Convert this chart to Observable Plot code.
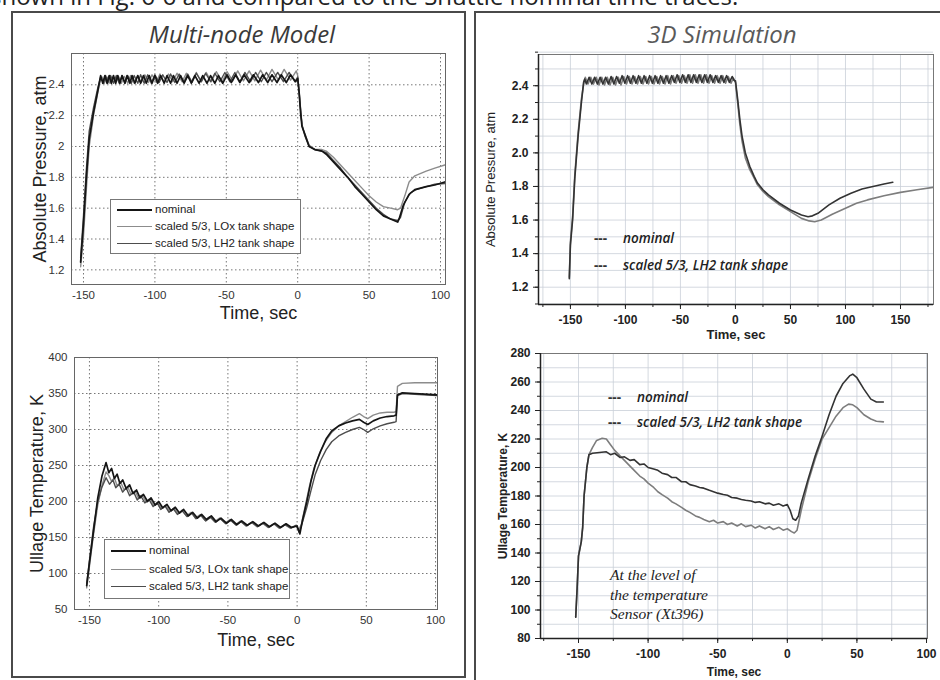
<!DOCTYPE html>
<html><head><meta charset="utf-8">
<script src="https://cdn.jsdelivr.net/npm/d3@7"></script>
<script src="https://cdn.jsdelivr.net/npm/@observablehq/plot@0.6"></script>
<style>
html,body{margin:0;padding:0;background:#fff;}
#page{position:relative;width:940px;height:680px;overflow:hidden;background:#fff;font-family:"Liberation Sans",Arial,sans-serif;}
.abs{position:absolute;}
.box{position:absolute;border:2px solid #4a4a4a;}
.title{position:absolute;font-family:"Open Sans",sans-serif;font-style:italic;font-size:24px;white-space:nowrap;transform:translate(-50%,-50%);}
.mlegend{position:absolute;background:#fff;border:1px solid #777;font-size:11.5px;color:#222;}
.mlegend .row{position:absolute;left:6px;white-space:nowrap;}
.mlegend .ln{display:inline-block;width:35px;vertical-align:middle;margin-right:3px;}
.olegend{position:absolute;font-family:"Open Sans",sans-serif;font-style:italic;font-weight:600;font-size:13.5px;color:#222;white-space:nowrap;}
.olegend .dash{display:inline-block;width:20px;color:#333;font-style:normal;font-weight:700;margin-right:9px;}
.note{position:absolute;font-family:"Liberation Serif",serif;font-style:italic;font-size:15.5px;line-height:19.5px;color:#222;white-space:nowrap;}
svg{position:absolute;overflow:visible;}
</style></head>
<body><div id="page"></div>
<script>
// ---------- Data: Multi-node model, absolute pressure (atm) ----------
const tlNominal = [[-152,1.25],[-150,1.5],[-148,1.8],[-146,2.05],[-143,2.22],[-140,2.36],[-138,2.46],
[-136.5,2.41],[-135,2.46],[-133.5,2.41],[-132,2.46],[-130.5,2.41],[-129,2.46],[-127.5,2.41],[-126,2.46],[-124.5,2.41],[-123,2.46],
[-121,2.41],[-119.5,2.46],[-117.5,2.41],[-116,2.46],[-114,2.41],[-112,2.46],[-110,2.41],[-108,2.46],[-106,2.41],[-104,2.46],
[-102,2.41],[-100,2.46],[-98,2.41],[-96,2.46],[-93.5,2.41],[-91.5,2.46],[-89,2.41],[-87,2.46],[-84.5,2.41],[-82,2.46],
[-79.5,2.41],[-77,2.46],[-74.5,2.41],[-72,2.46],[-69,2.41],[-66.5,2.46],[-63.5,2.41],[-61,2.46],[-58,2.41],[-55.5,2.46],
[-52.5,2.41],[-49.5,2.465],[-46.5,2.415],[-43.5,2.465],[-40.5,2.415],[-37.5,2.465],[-34,2.415],[-31,2.465],[-27.5,2.415],
[-24.5,2.465],[-21,2.415],[-18,2.465],[-14.5,2.415],[-11.5,2.465],[-8,2.415],[-5,2.465],[-1.5,2.42],[0,2.44],
[1,2.35],[2,2.22],[3,2.13],[5,2.08],[8,2.0],[12,1.98],[17,1.97],[20,1.95],[25,1.9],[30,1.85],[35,1.8],[40,1.74],[45,1.69],
[50,1.64],[55,1.59],[60,1.55],[65,1.53],[70,1.51],[71,1.53],[74,1.62],[78,1.69],[82,1.72],[90,1.74],[96,1.75],[103,1.77]];
const tlLOx = [[-152,1.22],[-150,1.42],[-148,1.72],[-146,2.0],[-143,2.2],[-140,2.35],[-138,2.44],
[-137,2.45],[-135.5,2.41],[-133.5,2.45],[-131.5,2.41],[-129.5,2.45],[-127.5,2.41],[-125.5,2.455],[-123.5,2.41],[-121.5,2.455],
[-119,2.41],[-117,2.46],[-114.5,2.41],[-112,2.46],[-109.5,2.415],[-107,2.465],[-104.5,2.415],[-102,2.465],[-99,2.415],
[-96.5,2.47],[-93.5,2.415],[-90.5,2.47],[-87.5,2.42],[-84.5,2.475],[-81,2.42],[-78,2.475],[-74.5,2.42],[-71,2.48],
[-67.5,2.42],[-64,2.48],[-60.5,2.42],[-57,2.485],[-53,2.42],[-49.5,2.485],[-45.5,2.425],[-42,2.49],[-38,2.425],[-34,2.49],
[-30,2.425],[-26,2.495],[-22,2.43],[-18,2.5],[-13.5,2.43],[-9.5,2.5],[-5,2.43],[-1,2.49],[0,2.46],
[1,2.36],[2,2.25],[3,2.14],[5,2.08],[8,2.01],[12,1.98],[17,1.98],[20,1.97],[25,1.93],[30,1.88],[35,1.83],[40,1.78],[45,1.73],
[50,1.68],[55,1.64],[60,1.61],[65,1.6],[70,1.59],[72,1.6],[75,1.68],[78,1.77],[82,1.81],[90,1.84],[96,1.86],[103,1.88]];
const tlLH2 = [[-152,1.28],[-150,1.55],[-148,1.85],[-146,2.1],[-143,2.25],[-140,2.38],[-138,2.45],
[-136,2.41],[-134.5,2.46],[-133,2.41],[-131,2.46],[-129,2.41],[-127,2.46],[-125,2.41],[-123,2.46],[-121,2.41],[-119,2.46],
[-116.5,2.41],[-114.5,2.46],[-112,2.41],[-110,2.465],[-107.5,2.41],[-105,2.465],[-102.5,2.41],[-100,2.465],[-97,2.415],
[-94.5,2.465],[-91.5,2.415],[-89,2.47],[-86,2.415],[-83,2.47],[-80,2.415],[-77,2.47],[-74,2.415],[-71,2.475],[-67.5,2.42],
[-64.5,2.475],[-61,2.42],[-58,2.475],[-54.5,2.42],[-51,2.48],[-47.5,2.42],[-44,2.48],[-40.5,2.42],[-37,2.48],[-33,2.42],
[-29.5,2.48],[-25.5,2.42],[-22,2.48],[-18,2.42],[-14,2.48],[-10,2.42],[-6,2.48],[-2,2.42],[0,2.45],
[1,2.35],[2,2.24],[3,2.14],[5,2.07],[8,2.0],[12,1.98],[17,1.97],[20,1.96],[25,1.91],[30,1.86],[35,1.8],[40,1.75],[45,1.7],
[50,1.65],[55,1.6],[60,1.56],[65,1.53],[70,1.52],[72,1.54],[75,1.64],[79,1.7],[83,1.72],[90,1.74],[96,1.755],[103,1.76]];

// ---------- Data: Multi-node model, ullage temperature (K) ----------
const blNominal = [[-152,83],[-150,115],[-147,160],[-144,205],[-141,235],[-138,254],
[-136,240],[-134,246],[-132,232],[-130,238],[-128,225],[-126,230],[-123.5,218],[-121,223],[-118.5,211],[-116,216],
[-113.5,205],[-111,210],[-108,200],[-105.5,205],[-102.5,195],[-100,200],[-97,191],[-94,196],[-91,187],[-88,192],
[-85,184],[-82,189],[-78.5,180],[-75.5,185],[-72,177],[-69,182],[-65.5,175],[-62,180],[-58.5,172],[-55,177],[-51,170],
[-47.5,175],[-43.5,168],[-40,173],[-36,167],[-32,172],[-28,166],[-24,171],[-20,165],[-16,170],[-12,164],[-8,169],[-4,164],
[0,166],[2,155],[4,175],[7,200],[10,228],[13,250],[17,270],[21,287],[25,298],[30,305],[35,309],[40,312],[45,314],[48,310],
[51,307],[55,312],[60,316],[65,318],[70,319],[71.5,320],[72.5,348],[76,351],[85,350],[92,349],[101,348]];
const blLOx = [[-152,80],[-150,110],[-147,155],[-144,195],[-141,222],[-138,241],
[-136,236],[-134,228],[-132,233],[-130,222],[-127.5,227],[-125,216],[-122.5,221],[-120,210],[-117,215],[-114.5,204],
[-112,209],[-109,199],[-106,204],[-103.5,194],[-101,199],[-98,190],[-95,195],[-92,186],[-89,191],[-86,183],[-83,188],
[-80,180],[-76.5,185],[-73.5,177],[-70,182],[-66.5,174],[-63,179],[-59.5,172],[-56,177],[-52,170],[-48.5,175],[-44.5,168],
[-41,173],[-37,166],[-33,171],[-29,165],[-25,170],[-21,164],[-17,169],[-13,163],[-9,168],[-5,163],[-1,167],
[1,160],[3,168],[6,195],[9,222],[12,245],[16,266],[20,282],[25,296],[30,305],[35,311],[40,317],[45,322],[48,318],[51,315],
[55,320],[60,323],[65,324],[70,324],[71.5,325],[72.5,360],[76,364],[85,365],[101,365]];
const blLH2 = [[-152,86],[-150,118],[-147,165],[-144,200],[-141,220],[-138,233],
[-135.5,224],[-133,230],[-131,219],[-128.5,224],[-126,213],[-123.5,219],[-121,208],[-118,213],[-115.5,202],[-113,208],
[-110,198],[-107,203],[-104,193],[-101,198],[-98.5,189],[-95.5,194],[-92.5,185],[-89.5,190],[-86.5,182],[-83,187],
[-79.5,179],[-76,184],[-73,176],[-69.5,181],[-66,173],[-62.5,178],[-59,171],[-55.5,176],[-51.5,169],[-48,174],[-44,167],
[-40.5,172],[-36.5,166],[-32.5,171],[-28.5,165],[-24.5,170],[-20.5,164],[-16.5,169],[-12.5,163],[-8.5,168],[-4.5,163],
[-0.5,167],[1.5,157],[4,172],[7,192],[10,215],[13,237],[17,257],[21,272],[25,283],[30,291],[35,296],[40,300],[45,303],
[48,300],[51,296],[55,301],[60,305],[65,308],[70,310],[71.5,311],[72.5,347],[76,350],[85,349],[101,347]];

// ---------- Data: 3D simulation, absolute pressure (atm) ----------
const trNominal = [[-151,1.25],[-150,1.45],[-148,1.6],[-146,1.85],[-143,2.1],[-140,2.3],[-138,2.42],[-137,2.44],
[-135.5,2.41],[-133,2.45],[-130.5,2.41],[-128,2.45],[-125.5,2.41],[-123,2.45],[-120.5,2.41],[-118,2.45],[-115.5,2.41],
[-113,2.455],[-110.5,2.41],[-108,2.455],[-105.5,2.415],[-103,2.46],[-100.5,2.415],[-98,2.46],[-95.5,2.415],[-93,2.46],
[-90.5,2.415],[-88,2.46],[-85.5,2.415],[-83,2.46],[-80.5,2.415],[-78,2.46],[-75.5,2.415],[-73,2.46],[-70.5,2.415],
[-68,2.46],[-65.5,2.415],[-63,2.46],[-60.5,2.415],[-58,2.46],[-55.5,2.42],[-53,2.465],[-50.5,2.42],[-48,2.465],
[-45.5,2.42],[-43,2.465],[-40.5,2.42],[-38,2.465],[-35.5,2.42],[-33,2.465],[-30.5,2.42],[-28,2.465],[-25.5,2.42],
[-23,2.465],[-20.5,2.42],[-18,2.46],[-15.5,2.42],[-13,2.46],[-10.5,2.42],[-8,2.46],[-5.5,2.42],[-3,2.455],[-1,2.43],
[0,2.43],[2,2.32],[4,2.2],[6,2.1],[9,2.0],[13,1.92],[17,1.86],[20,1.82],[25,1.78],[30,1.75],[40,1.7],[50,1.66],
[60,1.63],[66,1.62],[70,1.625],[75,1.64],[85,1.69],[95,1.73],[105,1.76],[115,1.785],[125,1.8],[135,1.815],[143,1.825]];
const trScaled = [[-151,1.26],[-150,1.47],[-148,1.62],[-146,1.87],[-143,2.12],[-140,2.32],[-138,2.41],
[-136.5,2.45],[-134,2.41],[-131.5,2.45],[-129,2.41],[-126.5,2.45],[-124,2.405],[-121.5,2.45],[-119,2.405],[-116.5,2.45],
[-114,2.405],[-111.5,2.45],[-109,2.405],[-106.5,2.45],[-104,2.405],[-101.5,2.455],[-99,2.41],[-96.5,2.455],[-94,2.41],
[-91.5,2.455],[-89,2.41],[-86.5,2.455],[-84,2.41],[-81.5,2.455],[-79,2.41],[-76.5,2.455],[-74,2.41],[-71.5,2.455],
[-69,2.41],[-66.5,2.455],[-64,2.41],[-61.5,2.46],[-59,2.41],[-56.5,2.46],[-54,2.415],[-51.5,2.46],[-49,2.415],[-46.5,2.46],
[-44,2.415],[-41.5,2.465],[-39,2.415],[-36.5,2.465],[-34,2.415],[-31.5,2.465],[-29,2.415],[-26.5,2.465],[-24,2.415],
[-21.5,2.46],[-19,2.415],[-16.5,2.46],[-14,2.415],[-11.5,2.46],[-9,2.415],[-6.5,2.455],[-4,2.415],[-2,2.445],
[0,2.42],[2,2.3],[4,2.17],[6,2.07],[9,1.97],[13,1.9],[17,1.85],[20,1.81],[25,1.77],[30,1.74],[40,1.69],[50,1.65],
[60,1.61],[67,1.595],[72,1.59],[78,1.6],[88,1.635],[100,1.67],[110,1.7],[120,1.72],[135,1.745],[150,1.765],[165,1.78],[180,1.795]];

// ---------- Data: 3D simulation, ullage temperature (K) ----------
const brNominal = [[-152,95],[-151,115],[-150,138],[-148,148],[-147,158],[-146,180],[-144,200],[-142.5,209],[-140,210],
[-135,210.5],[-130,211],[-127,209],[-124,210],[-120,207],[-117,207.5],[-113,205],[-110,205.5],[-106,202],[-103,202.5],
[-100,200],[-96,199],[-93,198],[-90,196],[-86,195],[-83,193],[-80,193],[-76,190],[-73,190],[-70,188],[-66,187],[-63,186],
[-60,185.5],[-56,184],[-53,183],[-50,182],[-46,181],[-43,180.5],[-40,179],[-36,178.5],[-33,177.5],[-30,177],[-26,176.5],
[-23,175.5],[-20,176],[-16,174.5],[-13,175],[-10,173.5],[-6,174.5],[-3,173],[0,174],[2,170],[4,164],[6,163],[8,166],
[10,175],[15,192],[20,208],[25,222],[30,237],[35,250],[40,259],[45,264.5],[47,265.5],[50,263],[55,255],[60,248],[64,246],[69,246]];
const brScaled = [[-152,95],[-151,115],[-150,138],[-148,148],[-147,158],[-146,180],[-144,200],[-142.5,209],[-140,214],
[-137,219],[-133,220.5],[-130,220],[-127,216],[-124,212],[-120,208],[-117,205],[-113,201],[-110,198],[-106,194],[-103,192],
[-100,189],[-96,186],[-93,183],[-90,181],[-86,178.5],[-83,176],[-80,174.5],[-76,172],[-73,170],[-70,168.5],[-66,166],
[-63,165],[-60,163.5],[-56,162],[-53,163],[-50,161],[-46,162],[-43,160],[-40,161],[-36,159],[-33,160.5],[-30,158.5],
[-26,159.5],[-23,157.5],[-20,159],[-16,157],[-13,158.5],[-10,156.5],[-6,158],[-3,156],[0,157],[3,155],[5,154],[7,156],
[10,170],[15,190],[20,206],[25,220],[30,228],[35,236],[40,242],[44,244.5],[47,244],[50,242],[55,237],[60,234],[64,232.5],[69,232]];

// ---------- Tick labels / text ----------
const mnTimeTicks = [-150,-100,-50,0,50,100];
const mnPressTicks = [1.2,1.4,1.6,1.8,2,2.2,2.4];
const mnTempTicks = [50,100,150,200,250,300,350,400];
const simTimeTicksP = [-150,-100,-50,0,50,100,150];
const simTimeTicksT = [-150,-100,-50,0,50,100];
const simPressTicks = [1.2,1.4,1.6,1.8,2.0,2.2,2.4];
const simTempTicks = [80,100,120,140,160,180,200,220,240,260,280];
const simPressGrid = [1.1,1.2,1.3,1.4,1.5,1.6,1.7,1.8,1.9,2.0,2.1,2.2,2.3,2.4,2.5,2.6];
const simTimeGrid = [-175,-150,-125,-100,-75,-50,-25,0,25,50,75,100,125,150,175];
const simTempGrid = [80,90,100,110,120,130,140,150,160,170,180,190,200,210,220,230,240,250,260,270,280];
const mnLegend = ["nominal","scaled 5/3, LOx tank shape","scaled 5/3, LH2 tank shape"];
const simLegend = ["nominal","scaled 5/3, LH2 tank shape"];
const sensorNote = ["At  the level of","the temperature","Sensor  (Xt396)"];
const topText = "shown in Fig. 6-6 and compared to the Shuttle nominal time traces.";

const page = document.getElementById("page");
const X = d => d[0], Y = d => d[1];
const mnColors = ["#151515","#8c8c8c","#4d4d4d"];
const simColors = ["#333","#7d7d7d"];

function place(svg, left, top){ svg.style.left = left+"px"; svg.style.top = top+"px"; page.appendChild(svg); }
function div(cls, html, css){ const e=document.createElement("div"); e.className=cls; e.innerHTML=html; Object.assign(e.style, css); page.appendChild(e); return e; }

// top cut text and outer boxes
div("abs", topText, {left:"-10px", top:"-16px", fontFamily:"'Open Sans',sans-serif", fontSize:"24px", color:"#222", whiteSpace:"nowrap", lineHeight:"24px"});
div("box", "", {left:"11px", top:"11px", width:"451px", height:"663px"});
div("box", "", {left:"474px", top:"11px", width:"480px", height:"680px"});

function xLabel(t, dy, fs, fw){ return Plot.text([t],{frameAnchor:"bottom", lineAnchor:"middle", textAnchor:"middle", dy, fontSize:fs, fontWeight:fw, fill:"#222"}); }
function yLabel(t, dx, fs, fw){ return Plot.text([t],{frameAnchor:"left", lineAnchor:"middle", textAnchor:"middle", rotate:-90, dx, fontSize:fs, fontWeight:fw, fill:"#222"}); }

// ---- Multi-node: pressure ----
const mnStyle = {fontFamily:"'Liberation Sans',Arial,sans-serif", fontSize:"11.5px", color:"#333", background:"transparent", overflow:"visible"};
const tl = Plot.plot({
  width:460, height:300, marginLeft:71, marginRight:15, marginTop:13, marginBottom:56,
  style: mnStyle,
  x:{domain:[-158.4,103.5]}, y:{domain:[1.105,2.603]},
  marks:[
    Plot.gridX(mnTimeTicks,{stroke:"#777", strokeOpacity:1, strokeDasharray:"1.5,2.5"}),
    Plot.gridY(mnPressTicks,{stroke:"#777", strokeOpacity:1, strokeDasharray:"1.5,2.5"}),
    Plot.frame({stroke:"#666"}),
    Plot.axisX(mnTimeTicks,{tickSize:0, tickPadding:6, tickFormat:d=>String(d), label:null}),
    Plot.axisY(mnPressTicks,{tickSize:0, tickPadding:7, tickFormat:d=>String(d), label:null}),
    Plot.line(tlLOx,{x:X,y:Y,stroke:mnColors[1],strokeWidth:1.4,clip:true}),
    Plot.line(tlLH2,{x:X,y:Y,stroke:mnColors[2],strokeWidth:1.4,clip:true}),
    Plot.line(tlNominal,{x:X,y:Y,stroke:mnColors[0],strokeWidth:1.7,clip:true}),
    xLabel("Time, sec", 29, 18, "normal"),
    yLabel("Absolute Pressure, atm", -31, 18, "normal")
  ]
});
place(tl, 0, 40);

// ---- Multi-node: temperature ----
const bl = Plot.plot({
  width:460, height:330, marginLeft:74, marginRight:23, marginTop:12, marginBottom:66,
  style: mnStyle,
  x:{domain:[-160.8,101.4]}, y:{domain:[50,400]},
  marks:[
    Plot.gridX(mnTimeTicks,{stroke:"#777", strokeOpacity:1, strokeDasharray:"1.5,2.5"}),
    Plot.gridY(mnTempTicks,{stroke:"#777", strokeOpacity:1, strokeDasharray:"1.5,2.5"}),
    Plot.frame({stroke:"#666"}),
    Plot.axisX(mnTimeTicks,{tickSize:0, tickPadding:6, tickFormat:d=>String(d), label:null}),
    Plot.axisY(mnTempTicks,{tickSize:0, tickPadding:7, tickFormat:d=>String(d), label:null}),
    Plot.line(blLOx,{x:X,y:Y,stroke:mnColors[1],strokeWidth:1.4,clip:true}),
    Plot.line(blLH2,{x:X,y:Y,stroke:mnColors[2],strokeWidth:1.4,clip:true}),
    Plot.line(blNominal,{x:X,y:Y,stroke:mnColors[0],strokeWidth:1.7,clip:true}),
    xLabel("Time, sec", 31, 18, "normal"),
    yLabel("Ullage Temperature, K", -37, 18, "normal")
  ]
});
place(bl, 0, 345);

// ---- 3D simulation: pressure ----
const simStyle = {fontFamily:"'Liberation Sans',Arial,sans-serif", fontSize:"12px", fontWeight:"bold", color:"#222", background:"transparent", overflow:"visible"};
const tr = Plot.plot({
  width:465, height:300, marginLeft:63, marginRight:7, marginTop:14, marginBottom:36,
  style: simStyle,
  x:{domain:[-179,180]}, y:{domain:[1.097,2.586]},
  marks:[
    Plot.gridX(simTimeGrid,{stroke:"#c9cfd8", strokeOpacity:1, strokeWidth:0.8}),
    Plot.gridY(simPressGrid,{stroke:"#c9cfd8", strokeOpacity:1, strokeWidth:0.8}),
    Plot.frame({stroke:"#777"}),
    Plot.axisX(simTimeGrid,{tickSize:3, tickFormat:()=>"", label:null, stroke:"#222"}),
    Plot.axisY(simPressGrid,{tickSize:3, tickFormat:()=>"", label:null, stroke:"#222"}),
    Plot.axisX(simTimeTicksP,{tickSize:5, tickPadding:6, tickFormat:d=>String(d), label:null, stroke:"#222"}),
    Plot.axisY(simPressTicks,{tickSize:5, tickPadding:5, tickFormat:d=>d.toFixed(1), label:null, stroke:"#222"}),
    Plot.ruleX([-179],{stroke:"#222", strokeWidth:1.5}),
    Plot.ruleY([1.097],{stroke:"#222", strokeWidth:1.5}),
    Plot.line(trScaled,{x:X,y:Y,stroke:simColors[1],strokeWidth:1.6,clip:true}),
    Plot.line(trNominal,{x:X,y:Y,stroke:simColors[0],strokeWidth:1.6,clip:true}),
    xLabel("Time, sec", 30, 13, "bold"),
    yLabel("Absolute Pressure, atm", -48, 13, "normal")
  ]
});
place(tr, 475, 40);

// ---- 3D simulation: temperature ----
const br = Plot.plot({
  width:465, height:340, marginLeft:65, marginRight:13, marginTop:13, marginBottom:42,
  style: simStyle,
  x:{domain:[-177.3,100.7]}, y:{domain:[80,280]},
  marks:[
    Plot.gridX(simTimeGrid,{stroke:"#c9cfd8", strokeOpacity:1, strokeWidth:0.8}),
    Plot.gridY(simTempGrid,{stroke:"#c9cfd8", strokeOpacity:1, strokeWidth:0.8}),
    Plot.frame({stroke:"#777"}),
    Plot.axisX(simTimeGrid,{tickSize:3, tickFormat:()=>"", label:null, stroke:"#222"}),
    Plot.axisY(simTempGrid,{tickSize:3, tickFormat:()=>"", label:null, stroke:"#222"}),
    Plot.axisX(simTimeTicksT,{tickSize:5, tickPadding:6, tickFormat:d=>String(d), label:null, stroke:"#222"}),
    Plot.axisY(simTempTicks,{tickSize:5, tickPadding:5, tickFormat:d=>String(d), label:null, stroke:"#222"}),
    Plot.ruleX([-177.3],{stroke:"#222", strokeWidth:1.5}),
    Plot.ruleY([80],{stroke:"#222", strokeWidth:1.5}),
    Plot.line(brScaled,{x:X,y:Y,stroke:simColors[1],strokeWidth:1.6,clip:true}),
    Plot.line(brNominal,{x:X,y:Y,stroke:simColors[0],strokeWidth:1.6,clip:true}),
    xLabel("Time, sec", 34, 12, "bold"),
    yLabel("Ullage Temperature, K", -37, 12, "bold")
  ]
});
place(br, 475, 340);

// titles
div("title", "Multi-node Model", {left:"242px", top:"33px", color:"#3a3a3a"});
div("title", "3D Simulation", {left:"722px", top:"33px", color:"#5a5a5a"});

// multi-node legends
function mLegend(left, top, w, h, rowYs){
  const L = div("mlegend", "", {left:left+"px", top:top+"px", width:w+"px", height:h+"px"});
  mnLegend.forEach((t,i)=>{
    const r = document.createElement("div"); r.className="row";
    r.style.top = (rowYs[i]-top-8)+"px";
    r.innerHTML = `<span class="ln" style="border-top:${i===0?2.2:1.8}px solid ${mnColors[i]}"></span>${t}`;
    L.appendChild(r);
  });
}
mLegend(110, 199, 189, 53, [210,227,244]);
mLegend(104, 539, 184, 58, [551,570,587]);

// 3D legends
function sLegend(left, tops){
  simLegend.forEach((t,i)=>{
    div("olegend", `<span class="dash">---</span>${t}`, {left:left+"px", top:(tops[i]-10)+"px"});
  });
}
sLegend(594, [239,266]);
sLegend(608, [398,423]);

// sensor note
div("note", sensorNote.join("<br>"), {left:"610px", top:"565px"});
</script>
</body></html>
